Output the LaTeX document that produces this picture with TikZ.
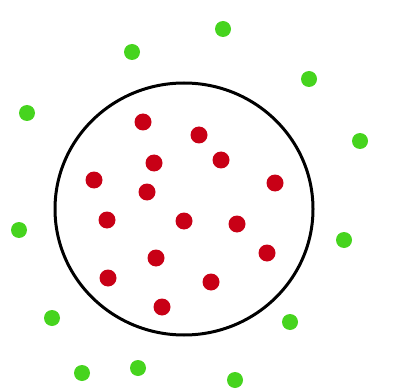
\documentclass[tikz,border=0pt]{standalone}
\usetikzlibrary{shapes.geometric}
\definecolor{dotred}{RGB}{200,0,22}
\definecolor{dotgreen}{RGB}{70,212,30}
\begin{document}
\begin{tikzpicture}[x=1pt,y=-1pt,
  reddot/.style={circle,fill=dotred,inner sep=0pt,minimum size=17pt},
  greendot/.style={circle,fill=dotgreen,inner sep=0pt,minimum size=16pt}]
\useasboundingbox (0,0) rectangle (401,390);
\node[draw=black,line width=3pt,ellipse,minimum width=258pt,minimum height=252pt,inner sep=0pt] (c) at (184,209) {};
% red
\foreach \x/\y [count=\i] in {143/122,199/135,154/163,221/160,94/180,275/183,147/192,107/220,184/221,237/224,156/258,267/253,108/278,211/282,162/307}
  \node[reddot] (r\i) at (\x,\y) {};
% green
\foreach \x/\y [count=\i] in {223/29,132/52,309/79,27/113,360/141,19/230,344/240,52/318,290/322,82/373,138/368,235/380}
  \node[greendot] (g\i) at (\x,\y) {};
\end{tikzpicture}
\end{document}
